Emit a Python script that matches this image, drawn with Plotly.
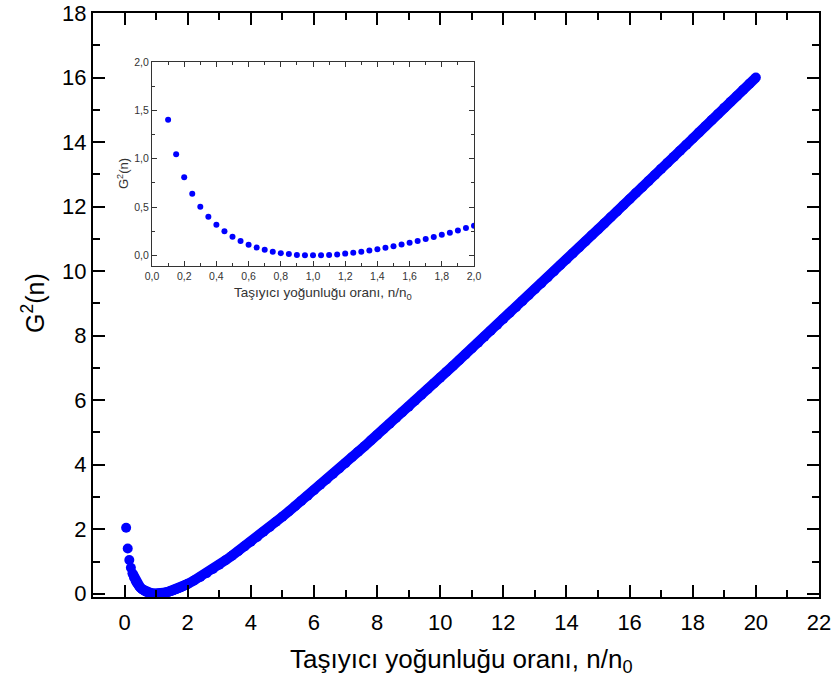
import plotly.graph_objects as go

# ---- data ----
n_fine = [0.05, 0.10, 0.15, 0.20, 0.25, 0.30, 0.35, 0.40, 0.45, 0.50,
          0.55, 0.60, 0.65, 0.70, 0.75, 0.80, 0.85, 0.90, 0.95, 1.00,
          1.05, 1.10, 1.15, 1.20, 1.25, 1.30, 1.35, 1.40, 1.45, 1.50,
          1.55, 1.60, 1.65, 1.70, 1.75, 1.80, 1.85, 1.90, 1.95, 2.00]
g2_fine = [2.046, 1.403, 1.047, 0.809, 0.636, 0.504, 0.400, 0.316, 0.249, 0.193,
           0.148, 0.111, 0.081, 0.057, 0.038, 0.023, 0.013, 0.005, 0.001, 0.000,
           0.001, 0.005, 0.010, 0.018, 0.027, 0.038, 0.050, 0.064, 0.078, 0.095,
           0.112, 0.130, 0.149, 0.169, 0.190, 0.212, 0.235, 0.258, 0.282, 0.307]

n_coarse = [2.2, 2.4, 2.6, 2.8, 3.0, 3.2, 3.4, 3.6, 3.8, 4.0,
            4.2, 4.4, 4.6, 4.8, 5.0, 5.2, 5.4, 5.6, 5.8, 6.0,
            6.2, 6.4, 6.6, 6.8, 7.0, 7.2, 7.4, 7.6, 7.8, 8.0,
            8.2, 8.4, 8.6, 8.8, 9.0, 9.2, 9.4, 9.6, 9.8, 10.0,
            10.2, 10.4, 10.6, 10.8, 11.0, 11.2, 11.4, 11.6, 11.8, 12.0,
            12.2, 12.4, 12.6, 12.8, 13.0, 13.2, 13.4, 13.6, 13.8, 14.0,
            14.2, 14.4, 14.6, 14.8, 15.0, 15.2, 15.4, 15.6, 15.8, 16.0,
            16.2, 16.4, 16.6, 16.8, 17.0, 17.2, 17.4, 17.6, 17.8, 18.0,
            18.2, 18.4, 18.6, 18.8, 19.0, 19.2, 19.4, 19.6, 19.8, 20.0]
g2_coarse = [0.41, 0.52, 0.64, 0.77, 0.90, 1.04, 1.18, 1.32, 1.47, 1.61,
             1.76, 1.92, 2.07, 2.23, 2.39, 2.55, 2.71, 2.88, 3.04, 3.21,
             3.38, 3.54, 3.71, 3.88, 4.05, 4.23, 4.40, 4.57, 4.75, 4.92,
             5.10, 5.27, 5.45, 5.63, 5.80, 5.98, 6.16, 6.34, 6.52, 6.70,
             6.88, 7.06, 7.24, 7.42, 7.60, 7.78, 7.97, 8.15, 8.33, 8.52,
             8.70, 8.88, 9.07, 9.25, 9.44, 9.62, 9.80, 9.99, 10.18, 10.36,
             10.55, 10.73, 10.92, 11.11, 11.29, 11.48, 11.67, 11.85, 12.04, 12.23,
             12.42, 12.60, 12.79, 12.98, 13.17, 13.36, 13.54, 13.73, 13.92, 14.11,
             14.30, 14.49, 14.68, 14.87, 15.06, 15.25, 15.43, 15.62, 15.81, 16.00]

n_all = n_fine + n_coarse
g2_all = g2_fine + g2_coarse

x_title = "Taşıyıcı yoğunluğu oranı, n/n<sub>0</sub>"
y_title = "G<sup>2</sup>(n)"

BLUE = "#0000FF"
FONT = "Liberation Sans, Arial, sans-serif"
INSET_GREY = "#333333"

fig = go.Figure()

# main chart: continuous band for the dense part + dots for all points
fig.add_trace(go.Scatter(x=n_all[4:], y=g2_all[4:], mode="lines",
                         line=dict(color=BLUE, width=10),
                         hoverinfo="skip", showlegend=False,
                         xaxis="x", yaxis="y"))
fig.add_trace(go.Scatter(x=n_all, y=g2_all, mode="markers",
                         marker=dict(color=BLUE, size=10, line=dict(width=0)),
                         showlegend=False, xaxis="x", yaxis="y"))

# inset
fig.add_trace(go.Scatter(x=n_fine, y=g2_fine, mode="markers",
                         marker=dict(color=BLUE, size=6, line=dict(width=0)),
                         showlegend=False, xaxis="x2", yaxis="y2"))

W, H = 837, 687
main_axis = dict(showline=True, linecolor="black", linewidth=2, mirror="ticks",
                 ticks="inside", ticklen=12, tickwidth=2, tickcolor="black",
                 showgrid=False, zeroline=False, automargin=False,
                 tickfont=dict(family=FONT, size=22, color="black"))
inset_axis = dict(showline=True, linecolor=INSET_GREY, linewidth=1, mirror="ticks",
                  ticks="inside", ticklen=5, tickwidth=1, tickcolor=INSET_GREY,
                  showgrid=False, zeroline=False, automargin=False,
                  tickfont=dict(family=FONT, size=10.5, color=INSET_GREY))

fig.update_layout(
    width=W, height=H,
    margin=dict(l=0, r=0, t=0, b=0),
    paper_bgcolor="white", plot_bgcolor="white",
    separators=",.",
    font=dict(family=FONT, color="black"),
    xaxis=dict(main_axis, domain=[93 / W, 819 / W], range=[-1, 22], dtick=2, tick0=0,
               ticklabelstandoff=5,
               minor=dict(ticks="inside", ticklen=7, tickwidth=2, dtick=1, tickcolor="black")),
    yaxis=dict(main_axis, domain=[1 - 597 / H, 1 - 13 / H], range=[-0.1, 18], dtick=2, tick0=0,
               minor=dict(ticks="inside", ticklen=7, tickwidth=2, dtick=1, tickcolor="black")),
    xaxis2=dict(inset_axis, anchor="y2", domain=[152 / W, 474 / W], range=[0, 2.0],
                dtick=0.2, tick0=0, tickformat=".1f", ticklabelstandoff=0,
                minor=dict(ticks="inside", ticklen=3, dtick=0.1, tickcolor=INSET_GREY)),
    yaxis2=dict(inset_axis, anchor="x2", domain=[1 - 266 / H, 1 - 62 / H], range=[-0.11, 2.0],
                dtick=0.5, tick0=0, tickformat=".1f",
                minor=dict(ticks="inside", ticklen=3, dtick=0.25, tickcolor=INSET_GREY)),
    annotations=[
        dict(text=x_title, xref="paper", yref="paper", x=461 / W, y=1 - 660 / H,
             xanchor="center", yanchor="middle", showarrow=False,
             font=dict(family=FONT, size=26, color="black")),
        dict(text=y_title, xref="paper", yref="paper", x=33 / W, y=1 - 303 / H,
             xanchor="center", yanchor="middle", showarrow=False, textangle=-90,
             font=dict(family=FONT, size=25, color="black")),
        dict(text=x_title, xref="paper", yref="paper", x=323 / W, y=1 - 293 / H,
             xanchor="center", yanchor="middle", showarrow=False,
             font=dict(family=FONT, size=13.5, color=INSET_GREY)),
        dict(text=y_title, xref="paper", yref="paper", x=123 / W, y=1 - 174 / H,
             xanchor="center", yanchor="middle", showarrow=False, textangle=-90,
             font=dict(family=FONT, size=13, color=INSET_GREY)),
    ],
)

fig.write_html("out.html")
